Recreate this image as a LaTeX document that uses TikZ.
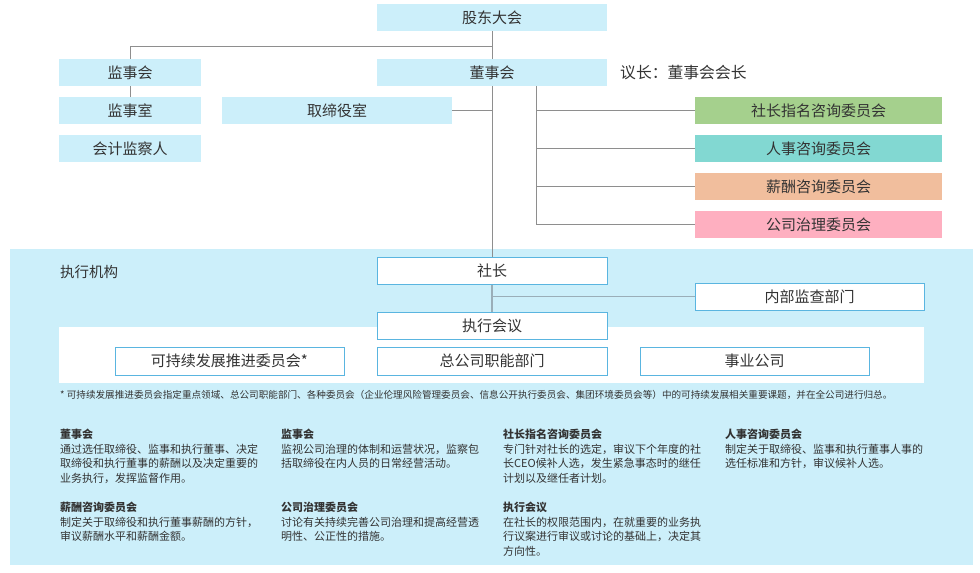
\documentclass[tikz,border=0pt]{standalone}
\usepackage{fontspec}
\setmainfont{Noto Sans CJK SC}
\definecolor{lb}{HTML}{CCEFFA}
\definecolor{bord}{HTML}{5AB5E0}
\definecolor{ln}{HTML}{8E8E8E}
\definecolor{lnb}{HTML}{9AAEB8}
\definecolor{tx}{HTML}{333333}
\definecolor{cgreen}{HTML}{A5D08D}
\definecolor{cteal}{HTML}{82D8D2}
\definecolor{csalmon}{HTML}{F1BE9D}
\definecolor{cpink}{HTML}{FEAFC0}
\tikzset{
  box/.style={minimum height=27pt, inner sep=0pt, font=\fontsize{15}{17}\selectfont, text=tx},
  topbox/.style={box, fill=lb},
  whitebox/.style={box, fill=white, draw=bord, line width=0.9pt},
  conn/.style={draw=ln, line width=1pt},
  connb/.style={draw=lnb, line width=1.3pt},
  desc/.style={anchor=north west, align=left, inner sep=0pt, text=tx, font=\fontsize{11}{14.5}\selectfont},
}
\begin{document}
\begin{tikzpicture}[x=1pt,y=-1pt]
\useasboundingbox (0,0) rectangle (980,573);
% backgrounds
\fill[lb] (10,249) rectangle (973,565);
\fill[white] (59,327) rectangle (924,383);
% nodes top
\node[topbox, minimum width=230pt] (gd) at (492,17.5) {股东大会};
\node[topbox, minimum width=142pt] (jsh) at (130,72.5) {监事会};
\node[topbox, minimum width=230pt] (dsh) at (492,72.5) {董事会};
\node[anchor=west, inner sep=0pt, text=tx, font=\fontsize{15.8}{17}\selectfont] (chair) at (620,73) {议长：董事会会长};
\node[topbox, minimum width=142pt] (jss) at (130,110.5) {监事室};
\node[topbox, minimum width=142pt] (kj) at (130,148.5) {会计监察人};
\node[topbox, minimum width=230pt] (qd) at (337,110.5) {取缔役室};
\node[box, fill=cgreen, minimum width=247pt] (c1) at (818.5,110.5) {社长指名咨询委员会};
\node[box, fill=cteal, minimum width=247pt] (c2) at (818.5,148.5) {人事咨询委员会};
\node[box, fill=csalmon, minimum width=247pt] (c3) at (818.5,186.5) {薪酬咨询委员会};
\node[box, fill=cpink, minimum width=247pt] (c4) at (818.5,224.5) {公司治理委员会};
% executive part
\node[anchor=west, inner sep=0pt, text=tx, font=\fontsize{14.5}{16}\selectfont] (exlab) at (60,272) {执行机构};
\node[whitebox, minimum width=230pt] (sz) at (492,271) {社长};
\node[whitebox, minimum width=229pt] (nb) at (809.5,296.5) {内部监查部门};
\node[whitebox, minimum width=230pt] (zx) at (492,325.5) {执行会议};
\node[whitebox, minimum width=229pt, minimum height=28pt] (kc) at (229.5,361) {可持续发展推进委员会*};
\node[whitebox, minimum width=230pt, minimum height=28pt] (zg) at (492,361) {总公司职能部门};
\node[whitebox, minimum width=229pt, minimum height=28pt] (sy) at (754.5,361) {事业公司};
% connectors
\coordinate (j1) at (492,46);
\coordinate (cb) at (536,86);
\draw[conn] (gd.south) -- (dsh.north);
\draw[conn] (jsh.north) |- (j1);
\draw[conn] (jsh.south) -- (jss.north);
\draw[conn] (dsh.south) -- (sz.north);
\draw[conn] (qd.east) -- (qd.east -| dsh.south);
\draw[conn] (cb) |- (c4.west);
\draw[conn] (c1.west) -- (c1.west -| cb);
\draw[conn] (c2.west) -- (c2.west -| cb);
\draw[conn] (c3.west) -- (c3.west -| cb);
\draw[connb] (sz.south) -- (zx.north);
\draw[connb] (nb.west) -- (nb.west -| sz.south);
% footnote
\node[anchor=west, inner sep=0pt, text=tx, font=\fontsize{9.6}{11}\selectfont] (fn) at (60,395) {* 可持续发展推进委员会指定重点领域、总公司职能部门、各种委员会（企业伦理风险管理委员会、信息公开执行委员会、集团环境委员会等）中的可持续发展相关重要课题，并在全公司进行归总。};
% descriptions
\node[desc] (d1) at (60,429) {\textbf{董事会}\\通过选任取缔役、监事和执行董事、决定\\取缔役和执行董事的薪酬以及决定重要的\\业务执行，发挥监督作用。};
\node[desc] (d2) at (281,429) {\textbf{监事会}\\监视公司治理的体制和运营状况，监察包\\括取缔役在内人员的日常经营活动。};
\node[desc] (d3) at (503,429) {\textbf{社长指名咨询委员会}\\专门针对社长的选定，审议下个年度的社\\长CEO候补人选，发生紧急事态时的继任\\计划以及继任者计划。};
\node[desc] (d4) at (725,429) {\textbf{人事咨询委员会}\\制定关于取缔役、监事和执行董事人事的\\选任标准和方针，审议候补人选。};
\node[desc] (d5) at (60,502) {\textbf{薪酬咨询委员会}\\制定关于取缔役和执行董事薪酬的方针，\\审议薪酬水平和薪酬金额。};
\node[desc] (d6) at (281,502) {\textbf{公司治理委员会}\\讨论有关持续完善公司治理和提高经营透\\明性、公正性的措施。};
\node[desc] (d7) at (503,502) {\textbf{执行会议}\\在社长的权限范围内，在就重要的业务执\\行议案进行审议或讨论的基础上，决定其\\方向性。};
\end{tikzpicture}
\end{document}
